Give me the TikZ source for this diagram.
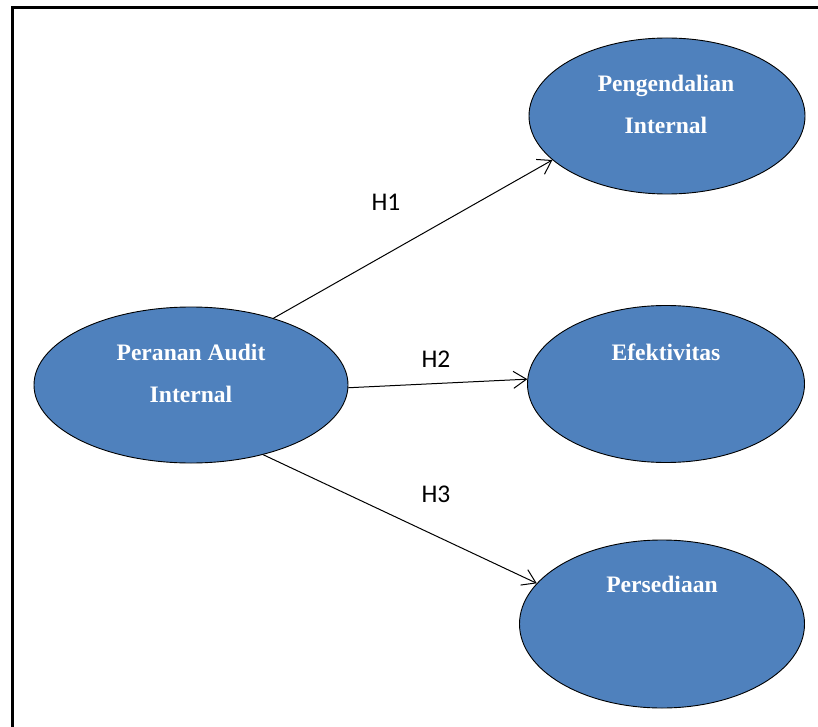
\documentclass[tikz,border=0pt]{standalone}
\usepackage{fontspec}
\setmainfont{Liberation Serif}
\newfontfamily\hfont{Carlito}
\usetikzlibrary{shapes.geometric,arrows.meta}
\definecolor{ovalblue}{HTML}{4F81BD}
\begin{document}
\begin{tikzpicture}[x=1pt,y=-1pt,
  oval/.style={ellipse,draw=black,line width=0.9pt,fill=ovalblue,inner sep=0pt},
  ovaltext/.style={text=white,font=\fontsize{23.6}{42}\selectfont\bfseries,align=center,inner sep=0pt},
  hlabel/.style={font=\hfont\fontsize{25.5}{30}\selectfont,inner sep=0pt},
  link/.style={line width=1pt,-{Straight Barb[length=13pt,width=17pt,line width=1pt]}}]
\useasboundingbox (0,0) rectangle (818,727);
% frame (cropped)
\draw[line width=3pt] (12,727) -- (12,8) -- (818,8);
% ovals
\node[oval,minimum width=314pt,minimum height=156pt] (pai) at (191,385) {};
\node[oval,minimum width=276pt,minimum height=156pt] (pi) at (667,116) {};
\node[oval,minimum width=277pt,minimum height=157pt] (ef) at (666,384) {};
\node[oval,minimum width=285pt,minimum height=168pt] (ps) at (662,624) {};
% texts
\node[ovaltext] (tpai) at (191,373) {Peranan Audit\\Internal};
\node[ovaltext] (tpi) at (666,104) {Pengendalian\\Internal};
\node[ovaltext] (tef) at (666,352) {Efektivitas};
\node[ovaltext] (tps) at (662,584) {Persediaan};
% connectors
\draw[link] (pai.39.7) -- (pi.201);
\draw[link] (pai.-1.8) -- (ef.178.3);
\draw[link] (pai.-44.2) -- (ps.162.5);
% labels
\node[hlabel] (h1) at (386,202) {H1};
\node[hlabel] (h2) at (436,359) {H2};
\node[hlabel] (h3) at (436,494) {H3};
\end{tikzpicture}
\end{document}
